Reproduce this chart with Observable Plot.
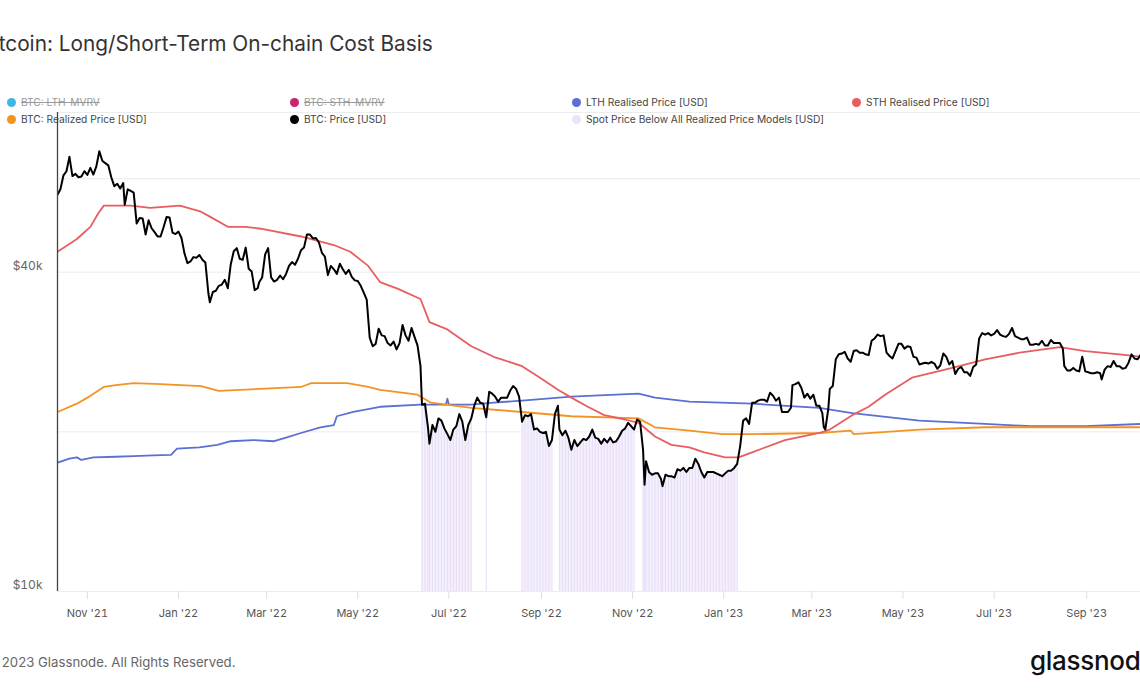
<!DOCTYPE html>
<html>
<head>
<meta charset="utf-8">
<script src="https://cdn.jsdelivr.net/npm/d3@7"></script>
<script src="https://cdn.jsdelivr.net/npm/@observablehq/plot@0.6"></script>
<style>
  html, body { margin: 0; padding: 0; background: #fff; }
  body { width: 1140px; height: 694px; overflow: hidden; position: relative; font-family: Inter, "Noto Sans", sans-serif; }
  #chart { position: absolute; left: 0; top: 0; }
  .title { position: absolute; left: -20px; top: 32px; font-size: 20.8px; line-height: 24px; color: #333; white-space: nowrap; }
  .lg { position: absolute; font-size: 10.2px; line-height: 14px; color: #444; white-space: nowrap; display: flex; align-items: center; }
  .lg .dot { width: 9px; height: 9px; border-radius: 50%; margin-right: 5px; display: inline-block; }
  .lg.off span.t { color: #9a9a9a; text-decoration: line-through; }
  .foot { position: absolute; left: -14px; top: 654px; font-size: 13.2px; line-height: 16px; color: #666; white-space: nowrap; }
  .logo { position: absolute; left: 1030px; top: 646px; font-size: 26px; line-height: 30px; color: #111; font-weight: 500; letter-spacing: -0.3px; white-space: nowrap; }
</style>
</head>
<body>
<div id="chart"></div>
<div class="title">Bitcoin: Long/Short-Term On-chain Cost Basis</div>
<div id="legend"></div>
<div class="foot">© 2023 Glassnode. All Rights Reserved.</div>
<div class="logo">glassnode</div>
<script>
// ---- data (USD thousands) ----
const btcPrice = [
["2021-10-12",56.0],["2021-10-14",57.4],["2021-10-16",60.9],["2021-10-18",62.0],["2021-10-20",66.0],["2021-10-22",60.7],["2021-10-24",61.3],["2021-10-26",60.4],["2021-10-28",60.6],["2021-10-30",62.0],
["2021-11-01",61.0],["2021-11-03",62.9],["2021-11-05",61.1],["2021-11-07",63.3],["2021-11-09",67.6],["2021-11-11",64.9],["2021-11-13",64.2],["2021-11-15",63.6],["2021-11-17",60.4],["2021-11-19",58.1],["2021-11-21",58.7],["2021-11-23",57.5],["2021-11-25",58.9],["2021-11-26",53.6],["2021-11-28",57.3],["2021-11-30",56.9],
["2021-12-02",56.5],["2021-12-04",49.4],["2021-12-06",50.6],["2021-12-08",50.5],["2021-12-10",47.1],["2021-12-12",50.1],["2021-12-14",48.4],["2021-12-16",47.6],["2021-12-18",46.7],["2021-12-20",46.7],["2021-12-22",48.6],["2021-12-24",50.8],["2021-12-26",50.7],["2021-12-28",47.5],["2021-12-30",47.2],
["2022-01-01",47.7],["2022-01-03",46.4],["2022-01-05",43.4],["2022-01-07",41.6],["2022-01-09",41.9],["2022-01-11",42.7],["2022-01-13",42.6],["2022-01-15",43.1],["2022-01-17",42.2],["2022-01-19",41.7],["2022-01-21",36.5],["2022-01-22",35.1],["2022-01-24",36.7],["2022-01-26",36.9],["2022-01-28",37.7],["2022-01-30",37.9],
["2022-02-01",38.7],["2022-02-03",37.3],["2022-02-05",41.4],["2022-02-07",43.8],["2022-02-09",44.4],["2022-02-11",42.4],["2022-02-13",42.2],["2022-02-15",44.5],["2022-02-17",40.6],["2022-02-19",40.1],["2022-02-21",37.0],["2022-02-23",37.3],["2022-02-24",38.3],["2022-02-26",39.1],["2022-02-28",43.2],
["2022-03-02",44.4],["2022-03-04",39.1],["2022-03-06",38.4],["2022-03-08",38.7],["2022-03-10",39.4],["2022-03-12",38.8],["2022-03-14",39.7],["2022-03-16",41.1],["2022-03-18",41.8],["2022-03-20",41.3],["2022-03-22",42.4],["2022-03-24",44.0],["2022-03-26",44.5],["2022-03-28",47.1],["2022-03-30",47.1],
["2022-04-01",46.3],["2022-04-03",46.4],["2022-04-05",45.5],["2022-04-07",43.5],["2022-04-09",42.8],["2022-04-11",39.5],["2022-04-13",41.1],["2022-04-15",40.5],["2022-04-17",39.7],["2022-04-19",41.5],["2022-04-21",40.5],["2022-04-23",39.7],["2022-04-25",40.4],["2022-04-27",39.2],["2022-04-29",38.6],
["2022-05-01",38.5],["2022-05-03",37.7],["2022-05-05",36.6],["2022-05-07",35.5],["2022-05-09",30.1],["2022-05-11",29.0],["2022-05-13",29.3],["2022-05-15",31.3],["2022-05-17",30.4],["2022-05-19",30.3],["2022-05-21",29.4],["2022-05-23",29.1],["2022-05-25",29.6],["2022-05-27",28.6],["2022-05-29",29.4],["2022-05-31",31.8],
["2022-06-02",30.4],["2022-06-04",29.7],["2022-06-06",31.4],["2022-06-08",30.2],["2022-06-10",29.1],["2022-06-12",26.6],["2022-06-13",22.5],["2022-06-15",22.6],["2022-06-17",20.4],["2022-06-18",19.0],["2022-06-20",20.6],["2022-06-22",20.0],["2022-06-24",21.2],["2022-06-26",21.0],["2022-06-28",20.3],["2022-06-30",19.8],
["2022-07-02",19.3],["2022-07-04",20.2],["2022-07-06",20.5],["2022-07-08",21.6],["2022-07-10",20.9],["2022-07-12",19.3],["2022-07-14",20.6],["2022-07-16",21.2],["2022-07-18",22.4],["2022-07-20",23.2],["2022-07-22",22.7],["2022-07-24",22.6],["2022-07-26",21.3],["2022-07-28",23.8],["2022-07-30",23.6],
["2022-08-01",23.3],["2022-08-03",22.8],["2022-08-05",23.2],["2022-08-07",23.2],["2022-08-09",23.2],["2022-08-11",23.9],["2022-08-13",24.4],["2022-08-15",24.1],["2022-08-17",23.3],["2022-08-19",20.9],["2022-08-21",21.5],["2022-08-23",21.4],["2022-08-25",21.6],["2022-08-27",20.2],["2022-08-29",20.3],["2022-08-31",20.0],
["2022-09-02",19.9],["2022-09-04",20.0],["2022-09-06",18.8],["2022-09-08",19.3],["2022-09-10",21.6],["2022-09-12",22.4],["2022-09-13",20.2],["2022-09-15",19.7],["2022-09-17",20.1],["2022-09-19",19.5],["2022-09-21",18.5],["2022-09-23",19.3],["2022-09-25",18.8],["2022-09-27",19.1],["2022-09-29",19.4],
["2022-10-01",19.3],["2022-10-03",19.6],["2022-10-05",20.2],["2022-10-07",19.5],["2022-10-09",19.4],["2022-10-11",19.0],["2022-10-13",19.4],["2022-10-15",19.1],["2022-10-17",19.5],["2022-10-19",19.1],["2022-10-21",19.2],["2022-10-23",19.6],["2022-10-25",20.1],["2022-10-27",20.3],["2022-10-29",20.8],["2022-10-31",20.5],
["2022-11-02",20.2],["2022-11-04",21.1],["2022-11-06",20.9],["2022-11-08",18.5],["2022-11-09",15.9],["2022-11-10",17.6],["2022-11-12",16.8],["2022-11-14",16.6],["2022-11-16",16.7],["2022-11-18",16.7],["2022-11-20",16.3],["2022-11-21",15.8],["2022-11-23",16.6],["2022-11-25",16.5],["2022-11-27",16.5],["2022-11-29",16.4],
["2022-12-01",17.0],["2022-12-03",16.9],["2022-12-05",17.1],["2022-12-07",16.8],["2022-12-09",17.1],["2022-12-11",17.1],["2022-12-13",17.8],["2022-12-15",17.4],["2022-12-17",16.8],["2022-12-19",16.4],["2022-12-21",16.8],["2022-12-23",16.8],["2022-12-25",16.8],["2022-12-27",16.7],["2022-12-29",16.6],["2022-12-31",16.5],
["2023-01-02",16.7],["2023-01-04",16.9],["2023-01-06",16.9],["2023-01-08",17.1],["2023-01-10",17.4],["2023-01-12",18.8],["2023-01-14",21.0],["2023-01-16",21.2],["2023-01-18",20.7],["2023-01-20",22.7],["2023-01-22",22.7],["2023-01-24",22.9],["2023-01-26",23.0],["2023-01-28",23.0],["2023-01-30",22.8],
["2023-02-01",23.7],["2023-02-03",23.4],["2023-02-05",22.9],["2023-02-07",23.2],["2023-02-09",21.8],["2023-02-11",21.8],["2023-02-13",21.8],["2023-02-15",22.2],["2023-02-16",24.5],["2023-02-18",24.6],["2023-02-20",24.8],["2023-02-22",24.2],["2023-02-24",23.2],["2023-02-26",23.6],["2023-02-28",23.1],
["2023-03-02",23.5],["2023-03-04",22.4],["2023-03-06",22.4],["2023-03-08",21.7],["2023-03-09",20.4],["2023-03-10",20.2],["2023-03-12",22.1],["2023-03-13",24.1],["2023-03-15",24.4],["2023-03-17",27.4],["2023-03-19",28.0],["2023-03-21",28.1],["2023-03-23",28.3],["2023-03-25",27.5],["2023-03-27",27.1],["2023-03-29",28.4],["2023-03-31",28.5],
["2023-04-02",28.2],["2023-04-04",28.2],["2023-04-06",28.0],["2023-04-08",27.9],["2023-04-10",29.7],["2023-04-12",30.0],["2023-04-14",30.5],["2023-04-16",30.3],["2023-04-18",30.4],["2023-04-20",28.2],["2023-04-22",27.8],["2023-04-24",27.5],["2023-04-26",28.4],["2023-04-28",29.3],["2023-04-30",29.3],
["2023-05-02",28.7],["2023-05-04",29.0],["2023-05-06",28.9],["2023-05-08",27.7],["2023-05-10",27.6],["2023-05-12",26.8],["2023-05-14",26.9],["2023-05-16",27.0],["2023-05-18",26.9],["2023-05-20",27.1],["2023-05-22",26.9],["2023-05-24",26.3],["2023-05-26",26.7],["2023-05-28",28.1],["2023-05-30",27.7],
["2023-06-01",26.8],["2023-06-03",27.2],["2023-06-05",25.7],["2023-06-07",26.3],["2023-06-09",26.5],["2023-06-11",25.9],["2023-06-13",25.9],["2023-06-15",25.5],["2023-06-17",26.5],["2023-06-19",26.8],["2023-06-21",30.0],["2023-06-23",30.7],["2023-06-25",30.5],["2023-06-27",30.7],["2023-06-29",30.4],
["2023-07-01",30.6],["2023-07-03",31.1],["2023-07-05",30.5],["2023-07-07",30.3],["2023-07-09",30.2],["2023-07-11",30.6],["2023-07-13",31.4],["2023-07-15",30.3],["2023-07-17",30.1],["2023-07-19",29.9],["2023-07-21",29.9],["2023-07-23",30.1],["2023-07-25",29.2],["2023-07-27",29.2],["2023-07-29",29.3],["2023-07-31",29.2],
["2023-08-02",29.7],["2023-08-04",29.1],["2023-08-06",29.1],["2023-08-08",29.8],["2023-08-10",29.4],["2023-08-12",29.4],["2023-08-14",29.4],["2023-08-16",28.7],["2023-08-17",26.6],["2023-08-19",26.1],["2023-08-21",26.1],["2023-08-23",26.4],["2023-08-25",26.1],["2023-08-27",26.0],["2023-08-29",27.7],["2023-08-31",26.0],
["2023-09-02",25.9],["2023-09-04",25.8],["2023-09-06",25.8],["2023-09-08",25.9],["2023-09-10",25.8],["2023-09-11",25.1],["2023-09-13",26.2],["2023-09-15",26.6],["2023-09-17",26.5],["2023-09-19",27.2],["2023-09-21",26.6],["2023-09-23",26.6],["2023-09-25",26.3],["2023-09-27",26.4],["2023-09-29",27.0],
["2023-10-01",28.0],["2023-10-03",27.5],["2023-10-05",27.4],["2023-10-07",27.9],["2023-10-08",27.9]
];

const sthRealised = [
["2021-10-12",43.7],["2021-10-25",46.2],["2021-11-03",48.7],["2021-11-08",51.5],["2021-11-12",53.4],["2021-11-30",53.4],["2021-12-13",52.9],["2022-01-02",53.4],["2022-01-16",52.0],["2022-01-22",50.9],["2022-02-03",48.7],["2022-02-15",48.7],["2022-02-25",48.3],["2022-03-24",46.7],["2022-04-15",45.0],["2022-04-26",43.7],["2022-05-08",41.1],["2022-05-16",38.3],["2022-05-28",37.2],["2022-06-12",35.6],["2022-06-18",32.2],["2022-06-30",31.2],["2022-07-16",29.0],["2022-07-31",27.7],["2022-08-19",26.6],["2022-08-30",25.4],["2022-09-12",24.0],["2022-09-21",23.2],["2022-10-02",22.3],["2022-10-13",21.5],["2022-10-27",21.1],["2022-11-05",20.8],["2022-11-16",19.6],["2022-11-27",18.9],["2022-12-09",18.7],["2022-12-19",18.3],["2023-01-02",17.9],["2023-01-11",17.9],["2023-01-20",18.3],["2023-02-11",19.3],["2023-03-06",19.9],["2023-03-13",20.2],["2023-03-28",21.5],["2023-04-08",22.3],["2023-04-19",23.5],["2023-05-07",25.3],["2023-06-03",26.4],["2023-06-25",27.4],["2023-07-18",28.2],["2023-08-14",28.9],["2023-08-31",28.4],["2023-09-23",28.0],["2023-10-08",27.7]
];

const lthRealised = [
["2021-10-12",17.5],["2021-10-20",17.8],["2021-10-25",17.9],["2021-10-28",17.7],["2021-11-05",17.9],["2021-11-20",17.95],["2021-12-02",18.0],["2021-12-15",18.05],["2021-12-27",18.1],["2021-12-31",18.6],["2022-01-15",18.7],["2022-01-27",18.9],["2022-02-05",19.2],["2022-02-20",19.3],["2022-03-06",19.2],["2022-03-14",19.5],["2022-03-24",19.9],["2022-04-06",20.4],["2022-04-15",20.6],["2022-04-17",21.4],["2022-04-28",21.8],["2022-05-16",22.3],["2022-06-12",22.5],["2022-06-29",22.5],["2022-06-30",23.1],["2022-07-01",22.5],["2022-07-16",22.5],["2022-07-31",22.7],["2022-08-19",22.9],["2022-09-21",23.3],["2022-11-05",23.6],["2022-11-16",23.2],["2022-12-09",22.8],["2023-01-20",22.6],["2023-03-06",22.2],["2023-03-28",21.7],["2023-05-12",21.0],["2023-06-25",20.7],["2023-07-25",20.5],["2023-08-31",20.5],["2023-10-08",20.7]
];

const realizedPrice = [
["2021-10-12",21.8],["2021-10-25",22.6],["2021-11-01",23.2],["2021-11-12",24.3],["2021-11-20",24.5],["2021-12-02",24.7],["2021-12-20",24.6],["2022-01-16",24.4],["2022-01-28",23.9],["2022-02-25",24.1],["2022-03-24",24.3],["2022-03-31",24.7],["2022-04-24",24.7],["2022-05-08",24.3],["2022-05-16",24.0],["2022-06-10",23.5],["2022-06-19",22.7],["2022-07-16",22.2],["2022-08-19",21.8],["2022-09-21",21.4],["2022-11-05",21.2],["2022-11-16",20.4],["2022-12-09",20.1],["2022-12-31",19.8],["2023-01-20",19.8],["2023-03-06",19.9],["2023-03-27",20.1],["2023-03-29",19.8],["2023-05-12",20.2],["2023-06-25",20.4],["2023-10-08",20.4]
];

// periods where spot price sits below all realized price models
const belowPeriods = [
["2022-06-13","2022-07-16"],["2022-07-25","2022-07-26"],["2022-08-19","2022-09-08"],["2022-09-13","2022-11-02"],["2022-11-08","2023-01-10"]
];

const xTicks = ["2021-11-01","2022-01-01","2022-03-01","2022-05-01","2022-07-01","2022-09-01","2022-11-01","2023-01-01","2023-03-01","2023-05-01","2023-07-01","2023-09-01"];
const yGridTicks = [10, 20, 40, 60, 80];
const yLabelTicks = [10, 40];

const legendItems = [
  {label: "BTC: LTH-MVRV", color: "#3db7e4", off: true},
  {label: "BTC: STH-MVRV", color: "#c8246f", off: true},
  {label: "LTH Realised Price [USD]", color: "#5b6fd4", off: false},
  {label: "STH Realised Price [USD]", color: "#ea5b5f", off: false},
  {label: "BTC: Realized Price [USD]", color: "#f39322", off: false},
  {label: "BTC: Price [USD]", color: "#000000", off: false},
  {label: "Spot Price Below All Realized Price Models [USD]", color: "#ebe4f8", off: false}
];

// ---- build ----
const parse = d3.utcParse("%Y-%m-%d");
const toRows = arr => arr.map(([d, v]) => ({date: parse(d), value: v}));
const price = toRows(btcPrice);
const sth = toRows(sthRealised);
const lth = toRows(lthRealised);
const realized = toRows(realizedPrice);
const periods = belowPeriods.map(([a, b]) => [parse(a), parse(b)]);
const below = [];
price.forEach(p => {
  periods.forEach((r, i) => { if (p.date >= r[0] && p.date <= r[1]) below.push({...p, period: i}); });
});

const fmtTick = d3.utcFormat("%b '%y");

const chart = Plot.plot({
  width: 1140,
  height: 694,
  marginLeft: 57,
  marginRight: 0,
  marginTop: 112,
  marginBottom: 103,
  style: {fontFamily: "Inter, 'Noto Sans', sans-serif", background: "transparent", overflow: "visible"},
  x: {type: "utc", domain: [parse("2021-10-12"), parse("2023-10-07")]},
  y: {type: "log", domain: [10, 80]},
  marks: [
    Plot.gridY(yGridTicks, {stroke: "#ececec", strokeOpacity: 1}),
    Plot.areaY(below, {x: "date", y1: 10, y2: "value", z: "period", fill: "#f5f0fc", curve: "linear"}),
    Plot.ruleX(below, {x: "date", y1: 10, y2: "value", stroke: "#e6dcf7", strokeWidth: 1}),
    Plot.axisX(xTicks.map(parse), {label: null, tickSize: 8, tickPadding: 10, stroke: "#dedede", fill: "#555", fontSize: 11, tickFormat: fmtTick}),
    Plot.axisY(yLabelTicks, {label: null, tickSize: 0, tickPadding: 15, dy: -6, fill: "#666", fontSize: 12, tickFormat: d => `$${d}k`}),
    Plot.line(lth, {x: "date", y: "value", stroke: "#5b6fd4", strokeWidth: 1.8, clip: true}),
    Plot.line(realized, {x: "date", y: "value", stroke: "#f39322", strokeWidth: 1.8, clip: true}),
    Plot.line(sth, {x: "date", y: "value", stroke: "#e85d61", strokeWidth: 1.8, clip: true}),
    Plot.line(price, {x: "date", y: "value", stroke: "#000", strokeWidth: 2, clip: true}),
    Plot.ruleX([parse("2021-10-12")], {stroke: "#444", strokeWidth: 1.3})
  ]
});
document.getElementById("chart").appendChild(chart);

// legend (two rows, four columns)
const colX = [7, 290, 572, 852];
const rowY = [95, 112];
const lg = document.getElementById("legend");
legendItems.forEach((item, i) => {
  const row = i < 4 ? 0 : 1;
  const col = i < 4 ? i : i - 4;
  const el = document.createElement("div");
  el.className = "lg" + (item.off ? " off" : "");
  el.style.left = colX[col] + "px";
  el.style.top = rowY[row] + "px";
  el.innerHTML = `<span class="dot" style="background:${item.color}"></span><span class="t">${item.label}</span>`;
  lg.appendChild(el);
});
</script>
</body>
</html>
